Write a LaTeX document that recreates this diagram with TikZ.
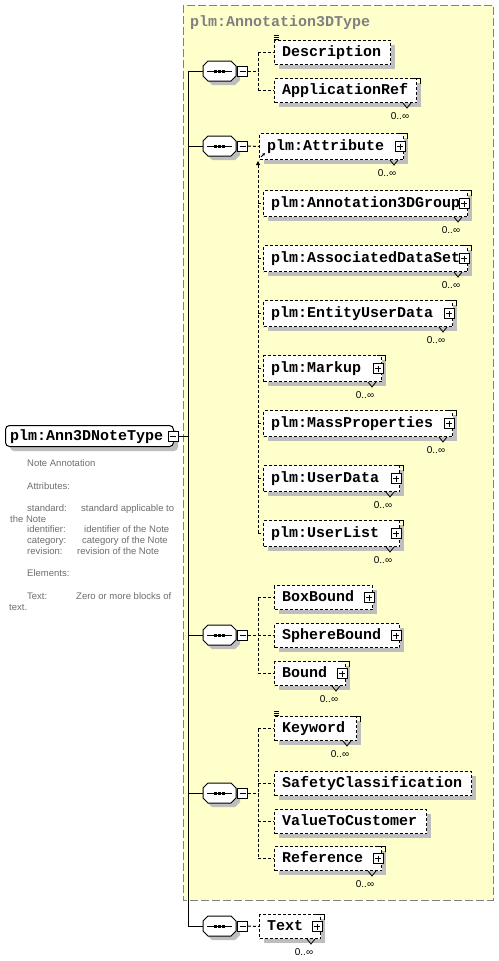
\documentclass[tikz,border=0pt]{standalone}
\usepackage{fontspec}
\setmainfont{Liberation Sans}
\newfontfamily\xmono{Liberation Mono}
\usetikzlibrary{arrows.meta}
\definecolor{ybg}{RGB}{255,255,204}
\definecolor{shd}{RGB}{190,190,190}
\definecolor{ttl}{RGB}{128,128,128}
\definecolor{ann}{RGB}{110,110,110}
\tikzset{
  ebox/.style={draw, fill=white, dash pattern=on 3pt off 2pt, line width=1pt, inner sep=0pt, anchor=north west},
  ename/.style={font=\xmono\bfseries\fontsize{15}{15}\selectfont, inner sep=0pt, anchor=base west},
  conn/.style={line width=1pt, dash pattern=on 3pt off 2pt},
  trunk/.style={line width=1pt},
  occ/.style={font=\fontsize{10}{10}\selectfont, inner sep=0pt},
  annot/.style={font=\fontsize{9.5}{11}\selectfont, text=ann, inner sep=0pt, anchor=base west},
  plusbox/.style={draw, solid, fill=white, line width=0.8pt, minimum size=10pt, inner sep=0pt,
    path picture={\draw[line width=0.8pt] ([xshift=2pt]path picture bounding box.west) -- ([xshift=-2pt]path picture bounding box.east)
      ([yshift=-2pt]path picture bounding box.north) -- ([yshift=2pt]path picture bounding box.south);}},
  minusbox/.style={draw, solid, fill=white, line width=0.8pt, minimum size=10pt, inner sep=0pt,
    path picture={\draw[line width=0.8pt] ([xshift=2pt]path picture bounding box.west) -- ([xshift=-2pt]path picture bounding box.east);}},
}
% element box: name, L, T, R, B, text
\newcommand{\EBox}[6]{%
  \fill[shd] ({#2+5},{#3+5}) rectangle ({#4+5},{#5+5});
  \node[ebox, minimum width={(#4)-(#2)}, minimum height={(#5)-(#3)}] (#1) at (#2,#3) {};
  \node[ename] (#1-n) at ({#2+8},{(#3+#5)/2+4}) {#6};
}
\newcommand{\PlusOn}[1]{\node[plusbox] (#1-p) at ([xshift=-4pt]#1.east) {};}
\newcommand{\MultiOn}[1]{%
  \draw[line width=0.8pt] ([xshift=-5pt]#1.north east) -- ([xshift=3pt]#1.north east) -- ([xshift=3pt,yshift=-6pt]#1.north east);
  \draw[line width=0.8pt] ([xshift=-14pt]#1.south east) -- ([xshift=-10pt,yshift=-5pt]#1.south east) -- ([xshift=-6pt]#1.south east);
  \node[occ] (#1-o) at ([xshift=-17pt,yshift=-13pt]#1.south east) {0..∞};
}
\newcommand{\DocIcon}[1]{%
  \foreach \k in {1,3,5} {\draw[line width=0.6pt] ([xshift=0pt,yshift=\k pt]#1.north west) -- ++(5,0);}
}
% sequence compositor: name, cy
\newcommand{\SeqNode}[2]{%
  \fill[shd, shift={(4,4)}] (208,{#2-10}) -- (231,{#2-10}) -- (236,{#2-5}) -- (236,{#2+5}) -- (231,{#2+10}) -- (208,{#2+10}) -- (203,{#2+5}) -- (203,{#2-5}) -- cycle;
  \node[inner sep=0pt, minimum width=33pt, minimum height=20pt] (#1) at (219.5,#2) {};
  \draw[line width=1pt, fill=white] (208,{#2-10}) -- (231,{#2-10}) -- (236,{#2-5}) -- (236,{#2+5}) -- (231,{#2+10}) -- (208,{#2+10}) -- (203,{#2+5}) -- (203,{#2-5}) -- cycle;
  \draw[line width=1pt] (207,#2) -- (232,#2);
  \foreach \dx in {214,218,222} {\fill (\dx,{#2-1.5}) rectangle ++(3,3);}
  \node[minusbox] (#1-m) at (242.5,#2) {};
}
\begin{document}
\begin{tikzpicture}[x=1pt, y=-1pt]
\useasboundingbox (0,0) rectangle (498,961);
\fill[white] (0,0) rectangle (498,961);
% type container
\draw[fill=ybg, draw=ttl, line width=1pt, dash pattern=on 8pt off 3pt] (183,5) rectangle (493,900);
\node[ename, text=ttl] (title) at (190,26) {plm:Annotation3DType};

% root
\fill[shd, rounded corners=4pt] (10,430) rectangle (178,451);
\node[draw, fill=white, line width=1pt, rounded corners=4pt, anchor=north west, minimum width=168pt, minimum height=21pt, inner sep=0pt] (root) at (5,425) {};
\node[ename] (root-n) at (10,440) {plm:Ann3DNoteType};
\node[minusbox] (root-m) at (173,436) {};

% annotation
\node[annot] (a1) at (27,466) {Note Annotation};
\node[annot] (a2) at (27,489) {Attributes:};
\node[annot] (a3) at (27,511) {standard:};
\node[annot] (a3v) at (81,511) {standard applicable to};
\node[annot] (a4) at (10,522) {the Note};
\node[annot] (a5) at (27,532) {identifier:};
\node[annot] (a5v) at (84,532) {identifier of the Note};
\node[annot] (a6) at (27,543) {category:};
\node[annot] (a6v) at (82,543) {category of the Note};
\node[annot] (a7) at (27,554) {revision:};
\node[annot] (a7v) at (77,554) {revision of the Note};
\node[annot] (a8) at (27,576) {Elements:};
\node[annot] (a9) at (27,599) {Text:};
\node[annot] (a9v) at (76,599) {Zero or more blocks of};
\node[annot] (a10) at (9,610) {text.};

% sequences
\SeqNode{s1}{71}
\SeqNode{s2}{146}
\SeqNode{s3}{635}
\SeqNode{s4}{793}
\SeqNode{s5}{926}

% trunk
\coordinate (tk1) at (188,71);
\coordinate (tk5) at (188,926);
\draw[trunk] (tk1) -- (tk5);
\draw[trunk] (root-m.east) -- (root-m.east -| tk1);
\foreach \s in {s1,s2,s3,s4,s5} {\draw[trunk] (\s.west -| tk1) -- (\s.west);}

% group 1
\EBox{desc}{274}{40}{390}{64}{Description}
\DocIcon{desc}
\EBox{appref}{274}{78}{416}{102}{ApplicationRef}
\MultiOn{appref}
\coordinate (g1) at (258,71);
\draw[conn] (s1-m.east) -- (g1);
\draw[conn] (desc.west -| g1) -- (appref.west -| g1);
\draw[conn] (desc.west -| g1) -- (desc.west);
\draw[conn] (appref.west -| g1) -- (appref.west);

% group 2
\EBox{attr}{259}{133}{403}{159}{plm:Attribute}
\PlusOn{attr}\MultiOn{attr}
\EBox{a3g}{263}{190}{467}{216}{plm:Annotation3DGroup}
\PlusOn{a3g}\MultiOn{a3g}
\EBox{ads}{263}{245}{467}{271}{plm:AssociatedDataSet}
\PlusOn{ads}\MultiOn{ads}
\EBox{eud}{263}{300}{452}{326}{plm:EntityUserData}
\PlusOn{eud}\MultiOn{eud}
\EBox{mkp}{263}{355}{381}{381}{plm:Markup}
\PlusOn{mkp}\MultiOn{mkp}
\EBox{mass}{263}{410}{452}{436}{plm:MassProperties}
\PlusOn{mass}\MultiOn{mass}
\EBox{udata}{263}{465}{399}{491}{plm:UserData}
\PlusOn{udata}\MultiOn{udata}
\EBox{ulist}{263}{520}{399}{546}{plm:UserList}
\PlusOn{ulist}\MultiOn{ulist}
\coordinate (g2) at (258,161);
\draw[conn] (s2-m.east) -- (attr.west);
\draw[conn, {Triangle[length=4pt,width=4pt]}-] (g2) -- (ulist.west -| g2);
\foreach \e in {a3g,ads,eud,mkp,mass,udata,ulist} {\draw[conn] (\e.west -| g2) -- (\e.west);}
\draw[line width=0.8pt, -{Stealth[length=3pt,width=3pt]}] ([xshift=2pt,yshift=3pt]attr.south west) -- ([xshift=6pt,yshift=7pt]attr.south west);

% group 3
\EBox{bbox}{274}{585}{372}{609}{BoxBound}
\PlusOn{bbox}
\EBox{sbound}{274}{623}{399}{647}{SphereBound}
\PlusOn{sbound}
\EBox{bound}{274}{661}{345}{685}{Bound}
\PlusOn{bound}\MultiOn{bound}
\coordinate (g3) at (258,635);
\draw[conn] (s3-m.east) -- (g3);
\draw[conn] (bbox.west -| g3) -- (bound.west -| g3);
\foreach \e in {bbox,sbound,bound} {\draw[conn] (\e.west -| g3) -- (\e.west);}

% group 4
\EBox{kw}{274}{716}{356}{740}{Keyword}
\DocIcon{kw}\MultiOn{kw}
\EBox{safety}{274}{771}{471}{795}{SafetyClassification}
\EBox{vtc}{274}{809}{426}{833}{ValueToCustomer}
\EBox{ref}{274}{846}{381}{870}{Reference}
\PlusOn{ref}\MultiOn{ref}
\coordinate (g4) at (258,793);
\draw[conn] (s4-m.east) -- (g4);
\draw[conn] (kw.west -| g4) -- (ref.west -| g4);
\foreach \e in {kw,safety,vtc,ref} {\draw[conn] (\e.west -| g4) -- (\e.west);}

% group 5
\EBox{txt}{259}{914}{320}{938}{Text}
\PlusOn{txt}\MultiOn{txt}
\draw[conn] (s5-m.east) -- (txt.west);
\end{tikzpicture}
\end{document}
